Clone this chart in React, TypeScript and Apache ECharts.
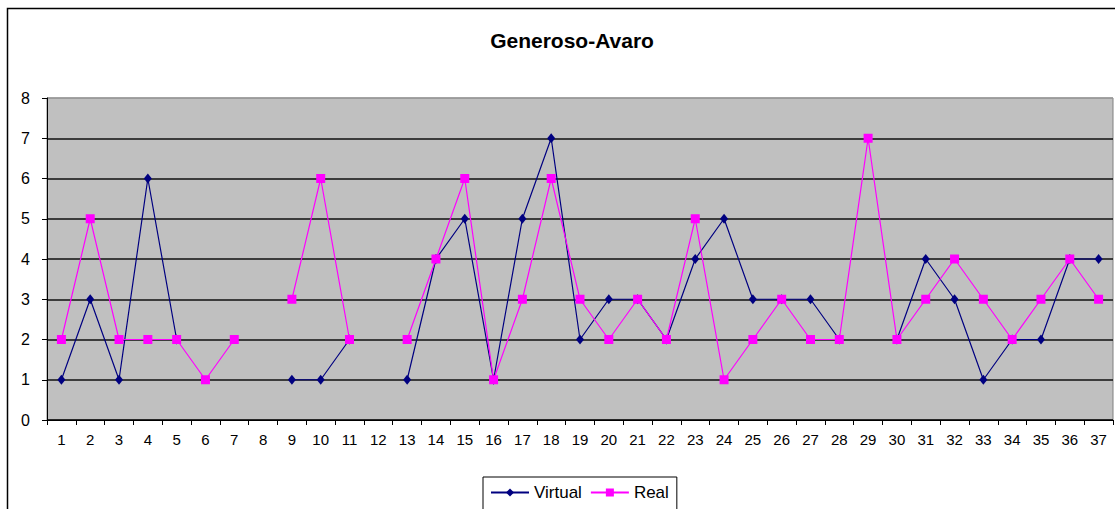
import React, { useEffect, useRef } from "react";
import * as echarts from "echarts";

const categories = ["1","2","3","4","5","6","7","8","9","10","11","12","13","14","15","16","17","18","19","20","21","22","23","24","25","26","27","28","29","30","31","32","33","34","35","36","37"];
const virtualValues = [1,3,1,6,2,null,null,null,1,1,2,null,1,4,5,1,5,7,2,3,3,2,4,5,3,3,3,2,null,2,4,3,1,2,2,4,4];
const realValues = [2,5,2,2,2,1,2,null,3,6,2,null,2,4,6,1,3,6,3,2,3,2,5,1,2,3,2,2,7,2,3,4,3,2,3,4,3];
const yTicks = { min: 0, max: 8, interval: 1 };
const titleText = "Generoso-Avaro";

export default function App() {
  const ref = useRef<HTMLDivElement>(null);
  useEffect(() => {
    if (!ref.current) return;
    const chart = echarts.init(ref.current, null, { renderer: "svg" });
    const font = "'Liberation Sans', Arial, sans-serif";
    chart.setOption({
      animation: false,
      backgroundColor: "#ffffff",
      textStyle: { fontFamily: font },
      title: {
        text: titleText,
        left: 567,
        top: 25,
        textAlign: "center",
        textStyle: { fontSize: 21, fontWeight: "bold", color: "#000", fontFamily: font },
      },
      graphic: [
        {
          type: "rect",
          shape: { x: 7.5, y: 8.5, width: 1200, height: 600 },
          style: { fill: "none", stroke: "#000", lineWidth: 1.5 },
          z: 100,
        },
      ],
      legend: {
        left: 483,
        top: 477,
        padding: [7, 8, 9, 7],
        itemGap: 8,
        itemWidth: 38,
        itemHeight: 10,
        borderColor: "#000",
        borderWidth: 1,
        backgroundColor: "#fff",
        textStyle: { fontSize: 17, color: "#000", fontFamily: font },
        data: ["Virtual", "Real"],
      },
      grid: { left: 47, top: 98, right: 2, bottom: 89, show: true, backgroundColor: "#C0C0C0", borderColor: "#808080", borderWidth: 1 },
      xAxis: {
        type: "category",
        data: categories,
        boundaryGap: true,
        axisLine: { lineStyle: { color: "#000", width: 1 } },
        axisTick: { show: true, length: 5, lineStyle: { color: "#000" }, alignWithLabel: false },
        axisLabel: { color: "#000", fontSize: 15, margin: 12, interval: 0, fontFamily: font },
        splitLine: { show: false },
      },
      yAxis: {
        type: "value",
        min: yTicks.min,
        max: yTicks.max,
        interval: yTicks.interval,
        axisLine: { show: true, lineStyle: { color: "#000", width: 1 } },
        axisTick: { show: true, length: 5, lineStyle: { color: "#000" } },
        axisLabel: { color: "#000", fontSize: 16, margin: 17, fontFamily: font },
        splitLine: {
          show: true,
          lineStyle: {
            color: ["#000", "#111", "#111", "#111", "#111", "#111", "#111", "#111", "#9a9a9a"],
            width: 1.5,
          },
        },
      },
      series: [
        {
          name: "Virtual",
          type: "line",
          data: virtualValues,
          connectNulls: false,
          symbol: "diamond",
          symbolSize: [8, 10],
          showAllSymbol: true,
          lineStyle: { color: "#000080", width: 1.2 },
          itemStyle: { color: "#000080" },
        },
        {
          name: "Real",
          type: "line",
          data: realValues,
          connectNulls: false,
          symbol: "rect",
          symbolSize: 9,
          showAllSymbol: true,
          lineStyle: { color: "#FF00FF", width: 1.2 },
          itemStyle: { color: "#FF00FF" },
        },
      ],
    });
    return () => chart.dispose();
  }, []);
  return (
    <div
      ref={ref}
      style={{ position: "fixed", left: 0, top: 0, width: 1115, height: 509 }}
    />
  );
}
